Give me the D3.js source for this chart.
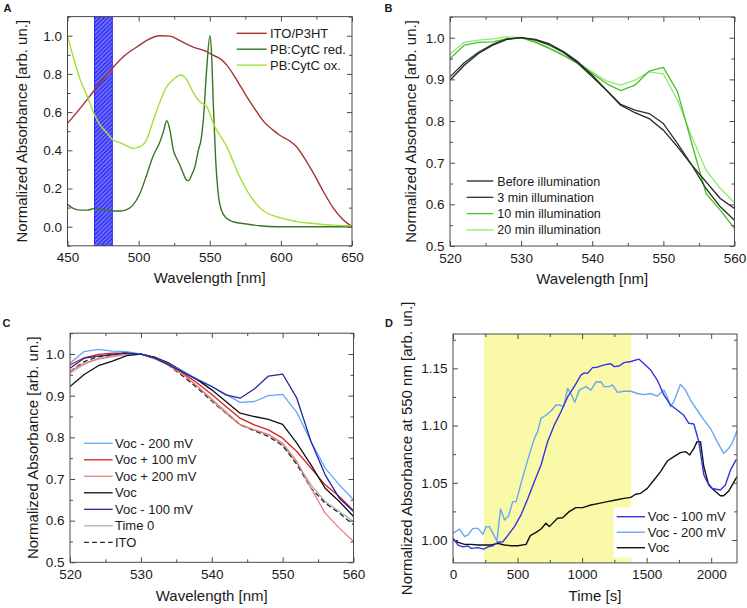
<!DOCTYPE html>
<html><head><meta charset="utf-8">
<script src="https://cdn.jsdelivr.net/npm/d3@7"></script>
<style>
body{margin:0;background:#fff}
svg{display:block}
text{font-family:"Liberation Sans",Arial,Helvetica,sans-serif;fill:#1a1a1a}
</style>
</head><body>
<svg id="chart" width="747" height="608"></svg>
<script>
// ---------- Panel A data ----------
const itoWl  = [450,460,469,482,490,499,506,515,522,529,538,548,552,557,562,569,576,583,588,595,599,606,611,616,623,630,637,644,650];
const itoAbs = [.541,.63,.716,.834,.895,.942,.977,1.0,.998,.974,.942,.916,.899,.881,.846,.768,.681,.602,.550,.503,.480,.450,.419,.366,.279,.183,.096,.035,0];
const redWl  = [450,454,459,464,469,473,478,482,487,492,496,501,506,510,515,517.4,519.7,522,524.4,526.7,529,531.4,533.7,535,537.3,539.6,542,544,545.4,547.8,550.1,551.3,552.5,554.1,556,558.3,561.8,566.5,575.8,585.2,597,650];
const redAbs = [.117,.096,.087,.087,.096,.091,.087,.082,.082,.091,.113,.175,.279,.366,.445,.497,.555,.506,.401,.358,.323,.279,.244,.241,.271,.314,.40,.46,.55,.82,1.0,.90,.64,.36,.17,.085,.044,.026,.014,.005,0,0];
const oxWl   = [450,454,459,464,469,473,478,482,487,492,496,501,506,510,515,520,524,529.5,534,538,543,548,550,552.5,557,562,566.5,571,576,580.5,585,590,597,604,613,623,632,641,650];
const oxAbs  = [1.0,.89,.768,.681,.585,.532,.489,.454,.440,.422,.410,.419,.462,.550,.654,.736,.768,.794,.768,.707,.654,.628,.593,.541,.480,.419,.340,.262,.192,.140,.101,.073,.052,.038,.024,.017,.010,.007,.003];
const bandA = [469, 481.5];
const legendA = ["ITO/P3HT","PB:CytC red.","PB:CytC ox."];

// ---------- Panels B & C wavelengths ----------
const wlBC = [520,522,524,526,528,530,532,534,536,538,540,542,544,546,548,550,552,554,556,558,560];

// ---------- Panel B data ----------
const bBefore = [.898,.934,.962,.982,.996,1.0,.996,.985,.966,.942,.910,.874,.838,.820,.806,.778,.738,.694,.654,.614,.590];
const b3min   = [.906,.940,.965,.984,.997,1.0,.994,.982,.964,.938,.906,.874,.840,.826,.818,.794,.746,.694,.638,.594,.562];
const b10min  = [.950,.982,.989,.990,.997,1.0,.989,.974,.957,.938,.914,.890,.873,.886,.920,.929,.870,.746,.626,.586,.542];
const b20min  = [.961,.989,.994,.997,1.002,1.0,.990,.976,.958,.940,.918,.896,.886,.898,.918,.913,.850,.762,.682,.638,.604];
const legendB = ["Before illumination","3 min illumination","10 min illumination","20 min illumination"];

// ---------- Panel C data ----------
const cVocM200 = [.978,1.006,1.011,1.007,1.006,1.0,.990,.975,.958,.940,.922,.903,.884,.886,.900,.903,.860,.790,.726,.686,.650];
const cVocP100 = [.974,.991,.999,1.002,1.002,1.0,.990,.974,.954,.930,.903,.874,.846,.830,.818,.798,.766,.726,.686,.658,.624];
const cVocP200 = [.958,.978,.988,.994,.999,1.0,.988,.972,.950,.922,.890,.858,.830,.818,.807,.786,.742,.678,.618,.582,.550];
const cVoc     = [.922,.951,.972,.983,.996,1.0,.992,.978,.958,.938,.914,.886,.858,.850,.843,.831,.786,.734,.678,.646,.610];
const cVocM100 = [.966,.990,.995,.999,1.002,1.0,.990,.974,.956,.938,.922,.902,.894,.916,.947,.952,.894,.790,.710,.654,.622];
const cTime0   = [.954,.975,.990,.996,1.0,1.0,.992,.974,.950,.922,.892,.862,.831,.818,.806,.782,.738,.686,.646,.622,.598];
const cITO     = [.958,.982,.994,.998,1.004,1.0,.992,.972,.946,.918,.887,.858,.830,.816,.802,.780,.735,.678,.642,.618,.590];
const legendC = ["Voc - 200 mV","Voc + 100 mV","Voc + 200 mV","Voc","Voc - 100 mV","Time 0","ITO"];

// ---------- Panel D data ----------
const dTimeVocM100 = [0,39,77,116,141,193,239,270,309,347,386,425,476,527,579,630,682,733,785,836,888,939,991,1017,1042,1081,1119,1171,1222,1248,1287,1325,1377,1441,1480,1531,1582,1634,1685,1737,1788,1827,1866,1904,1943,1968,2007,2072,2110,2149,2195];
const dVocM100 = [1.0015,.9956,.994,.9948,.9927,.9933,.992,.994,.995,.998,.9985,1.004,1.0117,1.022,1.036,1.051,1.0655,1.086,1.1005,1.112,1.125,1.134,1.144,1.146,1.1456,1.1506,1.151,1.153,1.154,1.1515,1.152,1.155,1.156,1.158,1.154,1.1486,1.1398,1.1267,1.118,1.1136,1.109,1.102,1.1014,1.086,1.057,1.051,1.045,1.0437,1.048,1.061,1.0705];
const dTimeVocM200 = [0,51,90,116,154,193,232,257,283,309,340,368,399,430,463,489,527,579,630,656,682,720,759,798,823,857,888,913,944,978,1029,1068,1107,1145,1171,1210,1235,1274,1325,1377,1428,1480,1531,1582,1634,1660,1685,1711,1762,1801,1840,1891,1943,1994,2046,2097,2136,2162,2200];
const dVocM200 = [1.0058,1.0096,1.003,1.0044,1.0102,1.0102,1.005,1.0117,1.0117,1.0058,.999,1.027,1.0175,1.021,1.0335,1.0335,1.0495,1.070,1.0888,1.0947,1.1063,1.109,1.1127,1.118,1.118,1.1165,1.1325,1.128,1.1203,1.131,1.134,1.131,1.138,1.1383,1.134,1.134,1.1355,1.129,1.130,1.130,1.128,1.127,1.128,1.1258,1.131,1.125,1.1165,1.121,1.136,1.131,1.1223,1.1136,1.105,1.0976,1.086,1.0757,1.080,1.0845,1.0952];
const dTimeVoc = [0,39,90,141,193,244,296,347,399,450,502,566,599,643,682,720,746,810,849,900,952,1004,1068,1132,1196,1261,1325,1377,1415,1454,1505,1557,1608,1660,1711,1762,1801,1834,1866,1891,1917,1943,1981,2020,2072,2097,2136,2200];
const dVoc = [1.0006,.998,.9962,.9962,.9956,.9956,.9956,.997,.9956,.995,.995,.9962,1.0038,1.0067,1.0096,1.0146,1.0117,1.019,1.0195,1.0248,1.0283,1.0283,1.0306,1.032,1.0335,1.035,1.0364,1.0373,1.040,1.0408,1.0451,1.0524,1.0597,1.069,1.0728,1.0763,1.0772,1.0743,1.080,1.086,1.086,1.064,1.048,1.0437,1.0387,1.0387,1.0428,1.0553];
const bandD = [240, 1380];
const legendD = ["Voc - 100 mV","Voc - 200 mV","Voc"];

// ---------- Tick values ----------
const ticksA_x = [450,500,550,600,650];
const ticksA_y = [0.0,0.2,0.4,0.6,0.8,1.0];
const ticksBC_x = [520,530,540,550,560];
const ticksBC_y = [0.5,0.6,0.7,0.8,0.9,1.0];
const ticksD_x = [0,500,1000,1500,2000];
const ticksD_y = [1.00,1.05,1.10,1.15];

const svg = d3.select("#chart");
const defs = svg.append("defs");
const pat = defs.append("pattern").attr("id","hatch").attr("patternUnits","userSpaceOnUse")
  .attr("width",3).attr("height",3).attr("patternTransform","rotate(45)");
pat.append("rect").attr("width",3).attr("height",3).attr("fill","#3a3af5");
pat.append("line").attr("x1",0).attr("y1",0).attr("x2",0).attr("y2",3).attr("stroke","#d0d0ff").attr("stroke-width",1);

const zip = (xs, ys) => xs.map((v,i)=>[v, ys[i]]);
const range = (a,b,s) => d3.range(a, b + s/2, s).map(v=>+v.toFixed(6));

let clipN = 0;
function panel(cfg){
  const g = svg.append("g");
  const x = d3.scaleLinear().domain(cfg.xDomain).range([cfg.left, cfg.right]);
  const y = d3.scaleLinear().domain(cfg.yDomain).range([cfg.bottom, cfg.top]);
  const id = "clip" + (clipN++);
  defs.append("clipPath").attr("id", id).append("rect")
    .attr("x", cfg.left).attr("y", cfg.top).attr("width", cfg.right-cfg.left).attr("height", cfg.bottom-cfg.top);
  const plot = g.append("g").attr("clip-path", `url(#${id})`);
  if (cfg.band) {
    plot.append("rect").attr("x", x(cfg.band[0])).attr("width", x(cfg.band[1]) - x(cfg.band[0]))
      .attr("y", cfg.top).attr("height", cfg.bottom - cfg.top)
      .attr("fill", cfg.bandFill).attr("stroke", cfg.bandStroke || "none").attr("stroke-width", 1);
  }
  if (cfg.legendBg) {
    plot.append("rect").attr("x", cfg.legendBg[0]).attr("y", cfg.legendBg[1])
      .attr("width", cfg.legendBg[2]).attr("height", cfg.legendBg[3]).attr("fill", "#fff");
  }
  const line = d3.line().x(d=>x(d[0])).y(d=>y(d[1])).curve(cfg.curve || d3.curveLinear);
  cfg.series.forEach(s => {
    plot.append("path").datum(s.data).attr("d", line).attr("fill","none")
      .attr("stroke", s.color).attr("stroke-width", s.width || cfg.lw || 1.3)
      .attr("stroke-dasharray", s.dash || null).attr("stroke-linejoin","round");
  });
  const axCol = "#4a4a4a";
  const mk = (axis, tr) => {
    const a = g.append("g").attr("transform", tr).call(axis);
    a.select(".domain").remove();
    a.selectAll("line").attr("stroke", axCol);
    a.selectAll("text").attr("font-size", cfg.tickFont || 13.5).attr("fill","#1a1a1a")
      .attr("font-family", null);
    return a;
  };
  const fx = cfg.xFmt, fy = cfg.yFmt;
  mk(d3.axisBottom(x).tickValues(cfg.xMajor).tickSizeInner(-5).tickSizeOuter(0).tickPadding(7).tickFormat(fx), `translate(0,${cfg.bottom})`);
  mk(d3.axisBottom(x).tickValues(cfg.xMinor).tickSizeInner(-3).tickSizeOuter(0).tickFormat(""), `translate(0,${cfg.bottom})`);
  mk(d3.axisTop(x).tickValues(cfg.xMajor).tickSizeInner(-5).tickSizeOuter(0).tickFormat(""), `translate(0,${cfg.top})`);
  mk(d3.axisTop(x).tickValues(cfg.xMinor).tickSizeInner(-3).tickSizeOuter(0).tickFormat(""), `translate(0,${cfg.top})`);
  mk(d3.axisLeft(y).tickValues(cfg.yMajor).tickSizeInner(-5).tickSizeOuter(0).tickPadding(5.5).tickFormat(fy), `translate(${cfg.left},0)`);
  mk(d3.axisLeft(y).tickValues(cfg.yMinor).tickSizeInner(-3).tickSizeOuter(0).tickFormat(""), `translate(${cfg.left},0)`);
  mk(d3.axisRight(y).tickValues(cfg.yMajor).tickSizeInner(-5).tickSizeOuter(0).tickFormat(""), `translate(${cfg.right},0)`);
  mk(d3.axisRight(y).tickValues(cfg.yMinor).tickSizeInner(-3).tickSizeOuter(0).tickFormat(""), `translate(${cfg.right},0)`);
  g.append("rect").attr("x", cfg.left).attr("y", cfg.top).attr("width", cfg.right-cfg.left).attr("height", cfg.bottom-cfg.top)
    .attr("fill","none").attr("stroke", axCol).attr("stroke-width", 1);
  g.append("text").attr("x", (cfg.left+cfg.right)/2).attr("y", cfg.xTitleY).attr("text-anchor","middle")
    .attr("font-size", 15).text(cfg.xTitle);
  g.append("text").attr("transform", `translate(${cfg.yTitleX},${(cfg.top+cfg.bottom)/2}) rotate(-90)`)
    .attr("text-anchor","middle").attr("dy","0.35em").attr("font-size", 15).text(cfg.yTitle);
  g.append("text").attr("x", cfg.labelPos[0]).attr("y", cfg.labelPos[1]).attr("font-size", 11)
    .attr("font-weight","bold").text(cfg.label);
  const L = cfg.legend;
  cfg.series.forEach((s) => {
    if (s.legendIndex === undefined) return;
    const yy = L.y0 + s.legendIndex * L.dy;
    g.append("line").attr("x1", L.x1).attr("x2", L.x2).attr("y1", yy).attr("y2", yy)
      .attr("stroke", s.color).attr("stroke-width", s.width || cfg.lw || 1.3).attr("stroke-dasharray", s.dash || null);
    g.append("text").attr("x", L.tx).attr("y", yy).attr("dy","0.36em").attr("font-size", L.font || 12.5).text(s.name);
  });
}

// Panel A
panel({
  label:"A", labelPos:[3.5,11.5],
  left:67.5, right:352, top:16.6, bottom:245.8,
  xDomain:[450,650], yDomain:[-0.1,1.1],
  xMajor:ticksA_x, xMinor:range(475,625,50), yMajor:ticksA_y, yMinor:range(-0.1,1.1,0.2),
  xFmt:d3.format("d"), yFmt:d3.format(".1f"),
  xTitle:"Wavelength [nm]", xTitleY:283, yTitle:"Normalized Absorbance [arb. un.]", yTitleX:22,
  band:bandA, bandFill:"url(#hatch)", bandStroke:"#2525ff",
  curve:d3.curveMonotoneX, lw:1.4,
  series:[
    {name:legendA[0], data:zip(itoWl,itoAbs), color:"#a8302f", legendIndex:0},
    {name:legendA[1], data:zip(redWl,redAbs), color:"#3a7526", legendIndex:1},
    {name:legendA[2], data:zip(oxWl,oxAbs), color:"#a5e03a", legendIndex:2}
  ],
  legend:{x1:236.7, x2:266.7, tx:270, y0:33.3, dy:15.9, font:13}
});

// Panel B
panel({
  label:"B", labelPos:[384.5,11.5],
  left:450, right:734.5, top:16.9, bottom:246,
  xDomain:[520,560], yDomain:[0.5,1.05],
  xMajor:ticksBC_x, xMinor:range(525,555,10), yMajor:ticksBC_y, yMinor:range(0.55,1.05,0.1),
  xFmt:d3.format("d"), yFmt:d3.format(".1f"),
  xTitle:"Wavelength [nm]", xTitleY:284, yTitle:"Normalized Absorbance [arb. un.]", yTitleX:410.5,
  lw:1.3,
  series:[
    {name:legendB[3], data:zip(wlBC,b20min), color:"#8fe870", legendIndex:3},
    {name:legendB[2], data:zip(wlBC,b10min), color:"#4cbf28", legendIndex:2},
    {name:legendB[0], data:zip(wlBC,bBefore), color:"#222222", legendIndex:0},
    {name:legendB[1], data:zip(wlBC,b3min), color:"#1d3b1d", legendIndex:1}
  ],
  legend:{x1:466.7, x2:493.3, tx:497.3, y0:181, dy:16.3, font:12.5}
});

// Panel C
panel({
  label:"C", labelPos:[2.5,327.3],
  left:70, right:353.5, top:333.2, bottom:562.3,
  xDomain:[520,560], yDomain:[0.5,1.05],
  xMajor:ticksBC_x, xMinor:range(525,555,10), yMajor:ticksBC_y, yMinor:range(0.55,1.05,0.1),
  xFmt:d3.format("d"), yFmt:d3.format(".1f"),
  xTitle:"Wavelength [nm]", xTitleY:601, yTitle:"Normalized Absorbance [arb. un.]", yTitleX:33,
  lw:1.3,
  series:[
    {name:legendC[5], data:zip(wlBC,cTime0), color:"#b0b0b0", legendIndex:5},
    {name:legendC[6], data:zip(wlBC,cITO), color:"#2a2a2a", dash:"5,3", legendIndex:6},
    {name:legendC[2], data:zip(wlBC,cVocP200), color:"#e57f7f", legendIndex:2},
    {name:legendC[1], data:zip(wlBC,cVocP100), color:"#d61f1f", legendIndex:1},
    {name:legendC[3], data:zip(wlBC,cVoc), color:"#111111", legendIndex:3},
    {name:legendC[0], data:zip(wlBC,cVocM200), color:"#5fa6ff", legendIndex:0},
    {name:legendC[4], data:zip(wlBC,cVocM100), color:"#25259a", legendIndex:4}
  ],
  legend:{x1:84, x2:112.7, tx:115, y0:443.3, dy:16.5, font:13}
});

// Panel D
panel({
  label:"D", labelPos:[385,327.3],
  left:453, right:737, top:334, bottom:562.9,
  xDomain:[0,2200], yDomain:[0.98,1.18],
  xMajor:ticksD_x, xMinor:[250,750,1250,1750], yMajor:ticksD_y, yMinor:[1.025,1.075,1.125,1.175],
  xFmt:d3.format("d"), yFmt:d3.format(".2f"),
  xTitle:"Time [s]", xTitleY:601, yTitle:"Normalized Absorbance at 550 nm [arb. un.]", yTitleX:406.5,
  band:bandD, bandFill:"#f9f9a8",
  legendBg:[613.5, 507.5, 122, 50],
  lw:1.4,
  series:[
    {name:legendD[2], data:zip(dTimeVoc,dVoc), color:"#111111", legendIndex:2},
    {name:legendD[1], data:zip(dTimeVocM200,dVocM200), color:"#66a8f2", legendIndex:1},
    {name:legendD[0], data:zip(dTimeVocM100,dVocM100), color:"#3434e0", legendIndex:0}
  ],
  legend:{x1:616.7, x2:645, tx:647.7, y0:516.7, dy:15.5, font:13}
});
</script>
</body></html>
